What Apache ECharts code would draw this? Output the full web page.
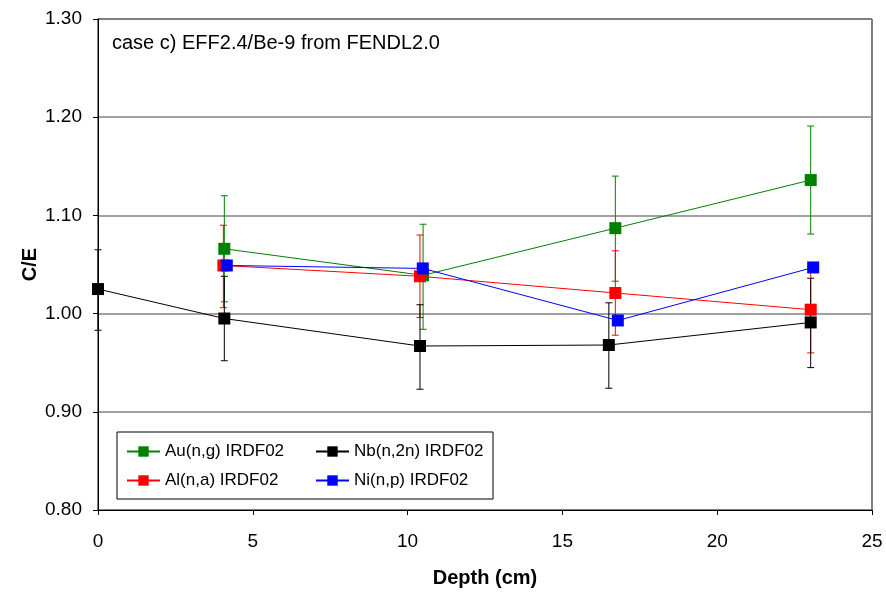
<!DOCTYPE html>
<html>
<head>
<meta charset="utf-8">
<script src="https://cdn.jsdelivr.net/npm/echarts@6/dist/echarts.min.js"></script>
<style>
  html, body { margin: 0; padding: 0; background: #fff; }
  #chart { width: 886px; height: 596px; }
</style>
</head>
<body>
<div id="chart"></div>
<script>
// depth (cm), C/E, error bar low / high
const auX = [4.08, 10.5, 16.71, 23.02];
const auY = [1.066, 1.039, 1.087, 1.136];
const auLo = [1.012, 0.984, 1.033, 1.081];
const auHi = [1.120, 1.091, 1.140, 1.191];

const alX = [4.05, 10.4, 16.71, 23.02];
const alY = [1.049, 1.038, 1.021, 1.004];
const alLo = [1.006, 0.996, 0.978, 0.960];
const alHi = [1.090, 1.080, 1.064, 1.048];

const nbX = [0, 4.08, 10.4, 16.5, 23.02];
const nbY = [1.025, 0.995, 0.967, 0.968, 0.991];
const nbLo = [0.983, 0.952, 0.923, 0.924, 0.945];
const nbHi = [1.065, 1.038, 1.009, 1.011, 1.036];

const niX = [4.16, 10.49, 16.79, 23.1];
const niY = [1.049, 1.046, 0.993, 1.047];

const FONT = 'Liberation Sans, Arial, sans-serif';

const myChart = echarts.init(document.getElementById('chart'));

const pts = (xs, ys) => xs.map((x, i) => [x, ys[i]]);
const bars = (xs, lo, hi) => xs.map((x, i) => [x, lo[i], hi[i]]);

// error bars drawn as custom series
const errSeries = (name, color, data) => ({
  name: name,
  type: 'custom',
  data: data,
  z: 2,
  renderItem: function (params, api) {
    const lo = api.coord([api.value(0), api.value(1)]);
    const hi = api.coord([api.value(0), api.value(2)]);
    const w = 3.5;
    const st = { stroke: color, lineWidth: 1 };
    return {
      type: 'group',
      children: [
        { type: 'line', shape: { x1: lo[0], y1: lo[1], x2: hi[0], y2: hi[1] }, style: st },
        { type: 'line', shape: { x1: lo[0] - w, y1: lo[1], x2: lo[0] + w, y2: lo[1] }, style: st },
        { type: 'line', shape: { x1: hi[0] - w, y1: hi[1], x2: hi[0] + w, y2: hi[1] }, style: st },
      ],
    };
  },
});

const lineSeries = (name, color, data, z) => ({
  name: name,
  type: 'line',
  data: data,
  z: z,
  symbol: 'rect',
  symbolSize: 12,
  showAllSymbol: true,
  itemStyle: { color: color },
  lineStyle: { color: color, width: 1 },
  animation: false,
});

const legendAt = (name, left, top) => ({
  data: [name],
  left: left,
  top: top,
  padding: 0,
  itemWidth: 33,
  itemHeight: 13,
  textStyle: { fontFamily: FONT, fontSize: 17, color: '#000' },
  selectedMode: false,
});

const option = {
  animation: false,
  grid: { left: 98, right: 14, top: 19, bottom: 86, show: true, borderColor: '#000', borderWidth: 1 },
  xAxis: {
    type: 'value',
    min: 0,
    max: 25,
    interval: 5,
    name: 'Depth (cm)',
    nameLocation: 'middle',
    nameGap: 58,
    nameTextStyle: { fontFamily: FONT, fontSize: 20, fontWeight: 'bold', color: '#000' },
    axisLine: { lineStyle: { color: '#000' } },
    axisTick: { show: true, inside: false, length: 5, lineStyle: { color: '#000' } },
    axisLabel: { fontFamily: FONT, fontSize: 19, color: '#000', margin: 22 },
    splitLine: { show: false },
  },
  yAxis: {
    type: 'value',
    min: 0.8,
    max: 1.3,
    interval: 0.1,
    name: 'C/E',
    nameLocation: 'middle',
    nameGap: 58,
    nameMoveOverlap: false,
    nameTextStyle: { fontFamily: FONT, fontSize: 20, fontWeight: 'bold', color: '#000' },
    axisLine: { show: true, lineStyle: { color: '#000' } },
    axisTick: { show: true, inside: false, length: 5, lineStyle: { color: '#000' } },
    axisLabel: { fontFamily: FONT, fontSize: 19, color: '#000', margin: 16, formatter: (v) => v.toFixed(2) },
    splitLine: { show: true, lineStyle: { color: '#808080', width: 1.5 } },
  },
  legend: [
    legendAt('Au(n,g) IRDF02', 126, 443),
    legendAt('Nb(n,2n) IRDF02', 315, 443),
    legendAt('Al(n,a) IRDF02', 126, 472),
    legendAt('Ni(n,p) IRDF02', 315, 472),
  ],
  graphic: [
    {
      type: 'rect',
      shape: { x: 117, y: 432, width: 376, height: 67 },
      style: { fill: '#fff', stroke: '#000', lineWidth: 1 },
      z: 0,
    },
    {
      type: 'text',
      left: 112,
      top: 33,
      style: { text: 'case c) EFF2.4/Be-9 from FENDL2.0', fontFamily: FONT, fontSize: 20, fill: '#000' },
    },
  ],
  series: [
    errSeries('auErr', '#008000', bars(auX, auLo, auHi)),
    errSeries('alErr', '#ff0000', bars(alX, alLo, alHi)),
    errSeries('nbErr', '#000000', bars(nbX, nbLo, nbHi)),
    lineSeries('Au(n,g) IRDF02', '#008000', pts(auX, auY), 3),
    lineSeries('Al(n,a) IRDF02', '#ff0000', pts(alX, alY), 4),
    lineSeries('Nb(n,2n) IRDF02', '#000000', pts(nbX, nbY), 5),
    lineSeries('Ni(n,p) IRDF02', '#0000ff', pts(niX, niY), 6),
  ],
};

option && myChart.setOption(option);
</script>
</body>
</html>
